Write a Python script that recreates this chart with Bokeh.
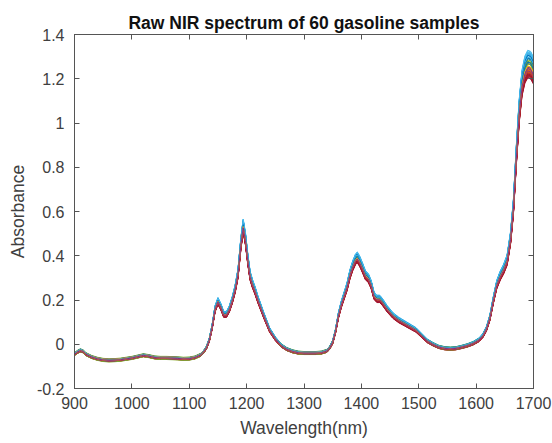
from bokeh.plotting import figure
from bokeh.models import ColumnDataSource, FixedTicker, LinearAxis, Range1d
from bokeh.embed import file_html
from bokeh.resources import INLINE

# ---- data ----
wavelength = [900, 905, 910, 915, 920, 930, 940, 950, 960, 970, 980, 990, 1000,
              1010, 1020, 1030, 1040, 1050, 1060, 1070, 1080, 1090, 1100, 1110,
              1120, 1125, 1130, 1135, 1140, 1145, 1150, 1155, 1160, 1165, 1170,
              1175, 1180, 1185, 1190, 1194, 1198, 1202, 1206, 1210, 1215, 1220,
              1230, 1240, 1250, 1260, 1270, 1280, 1290, 1300, 1310, 1320, 1330,
              1340, 1345, 1350, 1355, 1360, 1365, 1370, 1375, 1380, 1385, 1390,
              1393, 1397, 1402, 1407, 1412, 1417, 1422, 1427, 1432, 1437, 1445,
              1455, 1465, 1475, 1485, 1495, 1505, 1515, 1525, 1535, 1545, 1555,
              1565, 1575, 1585, 1595, 1605, 1612, 1618, 1624, 1630, 1636, 1642,
              1648, 1654, 1660, 1665, 1670, 1675, 1680, 1685, 1690, 1695, 1700]
mean_absorbance = [-0.045, -0.035, -0.028, -0.032, -0.045, -0.058, -0.066, -0.071,
                   -0.073, -0.072, -0.070, -0.066, -0.062, -0.056, -0.050, -0.054,
                   -0.060, -0.062, -0.062, -0.063, -0.064, -0.066, -0.065, -0.060,
                   -0.048, -0.035, -0.015, 0.020, 0.080, 0.160, 0.195, 0.170,
                   0.135, 0.135, 0.160, 0.200, 0.250, 0.320, 0.455, 0.535, 0.475,
                   0.385, 0.310, 0.275, 0.240, 0.200, 0.130, 0.065, 0.025, -0.005,
                   -0.022, -0.032, -0.038, -0.040, -0.040, -0.040, -0.038, -0.030,
                   -0.015, 0.010, 0.060, 0.130, 0.180, 0.220, 0.260, 0.315, 0.355,
                   0.385, 0.392, 0.375, 0.345, 0.312, 0.300, 0.270, 0.220, 0.205,
                   0.205, 0.190, 0.160, 0.130, 0.110, 0.095, 0.080, 0.065, 0.040,
                   0.015, 0.000, -0.012, -0.018, -0.020, -0.018, -0.012, -0.005,
                   0.005, 0.020, 0.040, 0.070, 0.120, 0.200, 0.270, 0.310, 0.340,
                   0.380, 0.480, 0.620, 0.850, 1.050, 1.180, 1.240, 1.265, 1.260,
                   1.235]
# per-sample intensity factor and baseline shift (60 samples)
sample_scale = [1.040, 0.972, 0.985, 0.990, 1.005, 1.045, 0.962,
                1.030, 0.968, 0.992, 0.978, 1.012, 1.038, 0.958,
                1.025, 0.980, 0.975, 1.000, 0.995, 1.032, 0.970,
                1.018, 0.965, 0.988, 0.984, 1.020, 1.042, 0.966,
                1.035, 0.976, 0.998, 0.982, 1.008, 1.028, 0.960,
                1.022, 0.970, 0.982, 0.994, 0.996, 1.036, 0.974,
                1.010, 0.985, 0.990, 0.987, 1.015, 1.025, 0.964,
                1.028, 0.973, 0.978, 0.980, 1.002, 1.040, 0.968,
                1.006, 0.982, 0.994, 0.986]
sample_offset = [0.004, -0.003, 0.001, -0.006, 0.006, 0.007, -0.005,
                 0.002, -0.007, 0.003, -0.002, 0.005, 0.006, -0.008,
                 0.000, -0.004, -0.001, 0.004, -0.003, 0.005, -0.006,
                 0.003, -0.005, 0.002, 0.001, 0.004, 0.008, -0.004,
                 0.005, -0.002, -0.006, 0.000, 0.003, 0.006, -0.007,
                 0.001, -0.004, 0.002, -0.005, 0.007, 0.004, -0.003,
                 -0.001, 0.000, -0.002, 0.004, -0.006, 0.002, -0.005,
                 0.006, -0.001, 0.003, -0.004, 0.001, 0.005, -0.002,
                 0.002, -0.003, 0.000, -0.001]
x_ticks = [900, 1000, 1100, 1200, 1300, 1400, 1500, 1600, 1700]
y_ticks = [-0.2, 0, 0.2, 0.4, 0.6, 0.8, 1.0, 1.2, 1.4]
y_tick_labels = ["-0.2", "0", "0.2", "0.4", "0.6", "0.8", "1", "1.2", "1.4"]
palette = ["#0072BD", "#D95319", "#EDB120", "#7E2F8E", "#77AC30", "#4DBEEE", "#A2142F"]

xs, ys, colors = [], [], []
for i, (s, o) in enumerate(zip(sample_scale, sample_offset)):
    xs.append(wavelength)
    ys.append([v * s + o for v in mean_absorbance])
    colors.append(palette[i % len(palette)])
src = ColumnDataSource(dict(xs=xs, ys=ys, color=colors))

FONT = "Liberation Sans"
TXT = "#404040"
AX = "#555555"

p = figure(width=552, height=443, output_backend="svg", toolbar_location=None,
           x_range=Range1d(900, 1700), y_range=Range1d(-0.2, 1.4),
           min_border_left=74, min_border_right=19, min_border_top=34,
           min_border_bottom=55, title="Raw NIR spectrum of 60 gasoline samples")
p.multi_line(xs="xs", ys="ys", line_color="color", line_width=1, source=src)

p.xgrid.visible = False
p.ygrid.visible = False
p.outline_line_color = AX
p.outline_line_width = 1
p.background_fill_color = "white"
p.border_fill_color = "white"

p.title.text_font = FONT
p.title.text_font_size = "17.5px"
p.title.text_font_style = "bold"
p.title.text_color = "#111111"
p.title.align = "center"

p.xaxis.axis_label = "Wavelength(nm)"
p.yaxis.axis_label = "Absorbance"
p.xaxis.ticker = FixedTicker(ticks=x_ticks)
p.yaxis.ticker = FixedTicker(ticks=y_ticks)
p.yaxis.major_label_overrides = dict(zip(y_ticks, y_tick_labels))

for ax in (p.xaxis[0], p.yaxis[0]):
    ax.axis_label_text_font = FONT
    ax.axis_label_text_font_size = "17.5px"
    ax.axis_label_text_font_style = "normal"
    ax.axis_label_text_color = TXT
    ax.major_label_text_font = FONT
    ax.major_label_text_font_size = "16px"
    ax.major_label_text_color = TXT
    ax.major_tick_in = 5
    ax.major_tick_out = 0
    ax.minor_tick_line_color = None
    ax.axis_line_color = AX
    ax.major_tick_line_color = AX
p.xaxis.major_label_standoff = 8
p.xaxis.axis_label_standoff = 6
p.yaxis.major_label_standoff = 10
p.yaxis.axis_label_standoff = 6

top_ax = LinearAxis(ticker=FixedTicker(ticks=x_ticks),
                    major_label_overrides={t: "" for t in x_ticks})
right_ax = LinearAxis(ticker=FixedTicker(ticks=y_ticks),
                      major_label_overrides={t: "" for t in y_ticks})
for ax in (top_ax, right_ax):
    ax.major_label_standoff = 0
    ax.major_tick_in = 5
    ax.major_tick_out = 0
    ax.minor_tick_line_color = None
    ax.axis_line_color = AX
    ax.major_tick_line_color = AX
p.add_layout(top_ax, "above")
p.add_layout(right_ax, "right")
p.title.standoff = 4

open("out.html", "w").write(file_html(p, INLINE))
